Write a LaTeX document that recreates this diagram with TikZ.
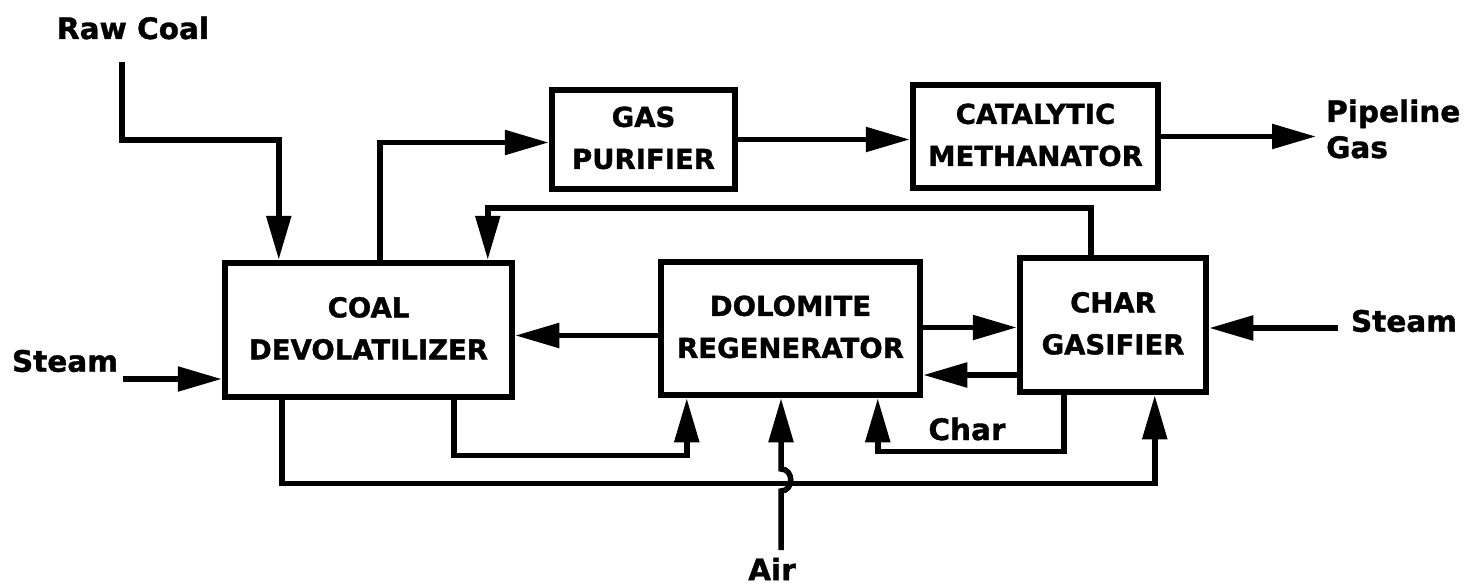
\documentclass[tikz,border=0pt]{standalone}
\usepackage{fontspec}
\setmainfont{DejaVu Sans}[BoldFeatures={FakeBold=1.2}]
\usetikzlibrary{arrows.meta,calc}
\newcommand\bx[2]{\raisebox{-9pt}{\begin{tabular}{@{}c@{}}#1\\#2\end{tabular}}}
\begin{document}
\begin{tikzpicture}[x=1pt,y=-1pt,
  unit/.style={draw,line width=6.5pt,inner sep=0pt,font=\fontsize{27.5}{42}\selectfont\bfseries},
  lbl/.style={inner sep=0pt,font=\fontsize{29.5}{36}\selectfont\bfseries},
  flow/.style={line width=5.5pt,-{Triangle[length=44pt,width=24pt]}},
  line join=miter]
\useasboundingbox (0,0) rectangle (1467,586);

% units
\node[unit,minimum width=287pt,minimum height=134pt] (dev) at (368.5,330) {\bx{COAL}{DEVOLATILIZER}};
\node[unit,minimum width=183pt,minimum height=99pt] (pur) at (643.5,139.5) {\bx{GAS}{PURIFIER}};
\node[unit,minimum width=245pt,minimum height=103pt] (meth) at (1035.5,136.5) {\bx{CATALYTIC}{METHANATOR}};
\node[unit,minimum width=259pt,minimum height=133pt] (dol) at (790.5,328.5) {\bx{DOLOMITE}{REGENERATOR}};
\node[unit,minimum width=186pt,minimum height=134pt] (gas) at (1113,325) {\bx{CHAR}{GASIFIER}};

% labels
\node[lbl] (raw) at (133,28) {Raw Coal};
\node[lbl,align=left,anchor=west] (pg) at (1326,129) {Pipeline\\Gas};
\node[lbl] (steamL) at (65,361) {Steam};
\node[lbl] (steamR) at (1404,321) {Steam};
\node[lbl] (char) at (967,429) {Char};
\node[lbl] (air) at (772,569) {Air};

% free ends
\coordinate (rcs) at (122,62);
\coordinate (slS) at (123,379);
\coordinate (srS) at (1338,328);
\coordinate (airS) at (781,550);

% connectors
\draw[flow] (rcs) |- ($(dev.north west)+(57,-120)$) -- ($(dev.north west)+(57,0)$);
\draw[flow] ($(dev.north west)+(158,0)$) |- ($(pur.west)+(0,3)$);
\draw[flow] (pur.east) -- (pur.east -| meth.west);
\draw[flow] (meth.east) -- ($(meth.east -| pg.west)+(-10,0)$);
\draw[flow] ($(gas.north west)+(74,0)$) |- ($(dev.north west)+(266,-52)$) -- ($(dev.north west)+(266,0)$);
\draw[flow] ($(dol.west)+(0,7)$) -- ($(dol.west -| dev.east)+(0,7)$);
\draw[flow] ($(dol.east)+(0,-1)$) -- ($(dol.east -| gas.west)+(0,-1)$);
\draw[flow] ($(gas.west)+(0,50)$) -- ($(gas.west -| dol.east)+(0,50)$);
\draw[flow] (slS) -- (slS -| dev.west);
\draw[flow] (srS) -- (srS -| gas.east);
\draw[flow] ($(dev.south west)+(60,0)$) |- ($(gas.south west)+(138,88)$) -- ($(gas.south west)+(138,0)$);
\draw[flow] ($(dev.south west)+(232,0)$) |- ($(dol.south west)+(29,57)$) -- ($(dol.south west)+(29,0)$);
\draw[flow] ($(gas.south west)+(47,0)$) |- ($(dol.south west)+(220,53)$) -- ($(dol.south west)+(220,0)$);
\draw[flow] (airS) -- ($(airS)+(0,-59)$) .. controls +(13,0) and +(13,0) .. ($(airS)+(0,-81)$) -- (airS |- dol.south);
\end{tikzpicture}
\end{document}
